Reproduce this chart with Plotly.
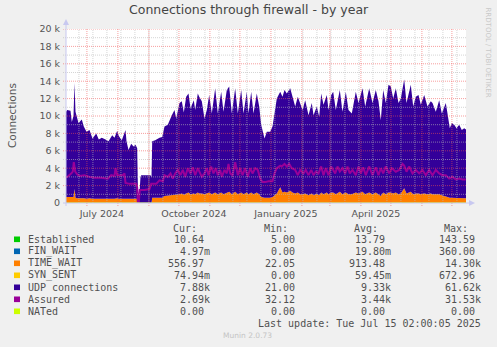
import pandas as pd
import plotly.graph_objects as go

# ---------------- data ----------------
START = pd.Timestamp("2024-06-10 02:00")
END = pd.Timestamp("2025-07-15 02:00")

stack_day = [0, 1.2, 4.5, 5.8, 7.5, 8.5, 9.5, 11.2, 12.5, 15.8,
             17.8, 20.5, 23.5, 26.5, 30.2, 32.8, 35.8, 39.5, 42.5, 46.2,
             48.5, 51.2, 52.8, 55.8, 59.5, 60.5, 62.5, 65.2, 67.5, 69.5,
             71.2, 72.0, 73.0, 74.5, 75.2, 84.5, 85.5, 86.2, 89.2, 93.5,
             96.2, 98.5, 101.8, 105.8, 108.5, 110.2, 113.5, 115.8, 117.8, 120.2,
             122.5, 124.5, 127.8, 129.2, 131.8, 133.2, 135.8, 138.5, 140.8, 143.2,
             145.8, 149.2, 151.8, 155.2, 157.5, 160.8, 163.2, 165.8, 169.2, 171.8,
             175.2, 177.5, 180.8, 182.5, 185.2, 187.5, 190.8, 193.2, 195.2, 198.5,
             200.8, 204.2, 206.5, 208.5, 210.8, 214.2, 216.5, 218.5, 220.8, 224.2,
             226.5, 229.2, 231.8, 234.2, 236.5, 239.2, 242.5, 245.8, 247.5, 250.8,
             253.2, 255.2, 257.5, 260.8, 262.5, 265.2, 267.2, 269.8, 273.8, 276.5,
             279.8, 282.5, 285.8, 289.8, 292.5, 296.5, 299.2, 303.2, 306.5, 309.8,
             312.5, 314.8, 317.2, 319.8, 322.5, 324.8, 327.2, 329.8, 332.5, 334.8,
             338.2, 340.5, 344.8, 347.2, 349.8, 352.5, 354.8, 358.2, 361.5, 364.8,
             366.5, 369.8, 373.2, 375.8, 379.8, 381.5, 383.8, 385.8, 388.2, 390.5,
             393.2, 395.8, 398.2, 400.5]

time_wait_k = [0.7, 0.7, 0.7, 0.7, 0.7, 1.6, 0.6, 0.55, 0.55, 0.6,
               0.55, 0.5, 0.55, 0.5, 0.5, 0.5, 0.5, 0.45, 0.5, 0.5,
               0.5, 0.55, 0.5, 0.5, 0.5, 0.5, 0.5, 0.5, 0.5, 0.55,
               0.5, 0, 0, 0, 0, 0, 0, 0.6, 0.6, 0.6,
               0.6, 0.8, 0.85, 0.85, 0.9, 1.0, 1.0, 1.1, 0.95, 1.1,
               1.2, 1.0, 1.1, 1.0, 1.2, 1.1, 1.1, 1.0, 1.1, 1.2,
               1.0, 1.2, 1.0, 1.2, 1.0, 1.2, 1.3, 1.0, 1.3, 1.0,
               1.2, 1.0, 1.2, 1.0, 1.2, 1.0, 1.2, 1.0, 0.7, 0.6,
               0.6, 0.6, 0.7, 0.9, 1.1, 1.8, 1.2, 1.3, 1.2, 1.4,
               1.2, 1.1, 1.2, 1.0, 1.0, 1.1, 0.9, 1.1, 0.9, 1.1,
               0.9, 1.2, 1.0, 1.2, 1.0, 1.2, 1.2, 1.0, 1.3, 1.0,
               1.2, 1.0, 1.0, 1.2, 1.1, 1.3, 1.0, 1.2, 1.0, 1.2,
               1.0, 0.8, 1.2, 1.0, 1.2, 1.2, 1.1, 1.2, 1.0, 1.1,
               1.7, 1.1, 1.3, 1.0, 1.1, 1.1, 1.0, 1.1, 1.0, 1.1,
               1.0, 1.0, 1.0, 0.9, 0.8, 0.7, 0.6, 0.6, 0.6, 0.6,
               0.6, 0.55, 0.55, 0.55]

udp_k = [9.8, 10.0, 9.9, 8.6, 9.3, 12.2, 9.9, 9.35, 8.65, 9.0,
         8.25, 7.7, 7.85, 6.9, 7.5, 6.8, 7.0, 6.85, 6.6, 7.3,
         7.0, 7.75, 7.2, 6.7, 7.9, 6.6, 5.6, 6.3, 6.0, 6.15,
         5.8, 1.0, 0.3, 3.0, 3.2, 3.2, 3.0, 6.5, 6.6, 6.9,
         7.0, 8.0, 8.15, 9.25, 9.8, 8.7, 10.5, 10.6, 9.45, 11.1,
         11.4, 9.9, 10.7, 9.7, 11.4, 11.1, 10.6, 8.7, 9.6, 11.2,
         9.3, 12.0, 9.3, 11.6, 9.5, 11.8, 12.1, 9.3, 11.9, 9.3,
         11.8, 9.3, 11.6, 9.3, 11.6, 9.3, 11.4, 10.1, 8.3, 6.8,
         7.6, 7.6, 8.1, 9.4, 10.9, 11.0, 11.0, 11.7, 11.4, 11.8,
         11.0, 10.0, 11.0, 10.3, 9.7, 10.7, 9.2, 10.4, 9.2, 10.0,
         9.0, 11.4, 10.3, 11.2, 9.7, 11.2, 11.6, 9.7, 11.7, 9.5,
         11.6, 9.7, 9.3, 11.6, 10.4, 11.9, 10.1, 12.0, 10.5, 11.8,
         10.7, 8.7, 11.8, 10.5, 12.4, 12.2, 10.9, 12.0, 10.5, 10.9,
         12.5, 10.4, 12.3, 10.1, 11.1, 11.3, 10.3, 11.3, 10.1, 10.6,
         10.5, 9.5, 10.8, 9.4, 10.7, 9.6, 8.0, 8.6, 8.4, 8.0,
         8.4, 7.85, 8.05, 7.85]

assured_day = [0, 1.2, 5.2, 6.8, 7.8, 9.2, 11.2, 13.5, 18.5, 23.5,
               28.5, 35.2, 41.8, 45.2, 48.5, 49.5, 51.2, 56.8, 58.5, 59.5,
               63.5, 66.8, 70.2, 71.2, 71.8, 72.8, 73.8, 78.5, 83.5, 85.2,
               90.2, 93.5, 96.8, 98.5, 101.8, 104.5, 106.8, 109.2, 111.8, 114.5,
               116.8, 119.2, 121.8, 124.5, 126.8, 129.2, 131.8, 135.8, 138.5, 140.8,
               142.5, 145.2, 147.5, 149.8, 151.8, 154.2, 155.8, 158.5, 160.8, 162.5,
               164.2, 166.5, 169.2, 171.8, 174.2, 176.5, 179.2, 181.8, 184.2, 186.5,
               189.2, 191.8, 194.2, 196.5, 199.2, 202.5, 206.5, 208.5, 210.8, 214.2,
               215.8, 218.5, 220.8, 223.2, 225.8, 229.2, 231.8, 234.2, 237.5, 239.8,
               242.5, 245.2, 247.5, 249.8, 252.5, 255.2, 257.5, 259.8, 262.5, 265.2,
               269.2, 271.5, 273.8, 276.5, 279.2, 281.5, 283.8, 286.5, 289.8, 292.5,
               294.8, 297.2, 299.8, 303.2, 306.5, 309.8, 312.5, 314.8, 317.2, 319.8,
               323.2, 325.8, 329.8, 333.2, 336.5, 338.2, 340.5, 343.2, 346.5, 349.8,
               353.2, 356.5, 359.8, 363.2, 366.5, 369.8, 373.2, 376.5, 379.8, 383.2,
               386.5, 389.8, 393.2, 396.5, 399.8]

assured_k = [3.0, 3.0, 3.4, 3.6, 4.7, 3.6, 3.3, 3.1, 3.2, 3.0,
             2.9, 2.9, 2.8, 3.2, 3.1, 4.0, 3.2, 3.2, 3.4, 2.3,
             2.2, 2.2, 2.2, 1.8, 0.1, 0.1, 1.5, 1.5, 1.6, 2.2,
             2.2, 2.6, 2.5, 3.2, 3.0, 3.4, 2.8, 3.4, 3.8, 3.2,
             3.8, 3.0, 4.0, 3.4, 4.1, 3.2, 4.0, 3.0, 3.4, 4.0,
             3.2, 4.2, 3.4, 4.0, 3.2, 3.8, 3.0, 3.8, 3.4, 4.5,
             3.4, 3.2, 4.7, 3.2, 4.0, 3.2, 4.0, 3.0, 4.0, 3.4,
             4.0, 3.8, 2.8, 2.4, 2.4, 2.5, 2.5, 3.4, 4.0, 4.3,
             4.2, 4.5, 4.2, 4.5, 4.0, 3.8, 3.2, 3.8, 3.4, 3.8,
             3.2, 3.8, 3.2, 3.6, 3.4, 4.2, 3.2, 4.0, 3.2, 4.2,
             3.4, 4.2, 3.6, 4.0, 3.4, 4.2, 3.4, 3.8, 3.2, 4.2,
             3.4, 4.1, 3.2, 4.2, 3.2, 4.1, 3.2, 4.0, 3.4, 4.2,
             3.4, 4.0, 3.6, 3.8, 4.5, 4.3, 3.6, 4.2, 3.4, 3.8,
             3.4, 3.8, 3.2, 3.8, 3.2, 3.8, 3.4, 3.2, 3.2, 2.8,
             3.0, 2.7, 2.8, 2.7, 2.7]

nated_day = [0, 400.5]
nated_val = [0, 0]

x_label_dates = ["2024-07-16", "2024-10-16", "2025-01-16", "2025-04-16"]
x_label_text = ["July 2024", "October 2024", "January 2025", "April 2025"]
y_tick_vals = [0, 2000, 4000, 6000, 8000, 10000, 12000, 14000, 16000, 18000, 20000]
y_tick_text = ["0", "2 k", "4 k", "6 k", "8 k", "10 k", "12 k", "14 k", "16 k", "18 k", "20 k"]

legend_names = ["Established", "FIN_WAIT", "TIME_WAIT", "SYN_SENT", "UDP connections", "Assured", "NATed"]
legend_colors = ["#00CC00", "#0066B3", "#FF8000", "#FFCC00", "#330099", "#990099", "#CCFF00"]
cur_vals = ["10.64", "4.97m", "556.97", "74.94m", "7.88k", "2.69k", "0.00"]
min_vals = ["5.00", "0.00", "22.05", "0.00", "21.00", "32.12", "0.00"]
avg_vals = ["13.79", "19.80m", "913.48", "59.45m", "9.33k", "3.44k", "0.00"]
max_vals = ["143.59", "360.00", "14.30k", "672.96", "61.62k", "31.53k", "0.00"]

assert len(stack_day) == len(time_wait_k) == len(udp_k)
assert len(assured_day) == len(assured_k)

# ---------------- layout geometry ----------------
W, H = 497, 347
L, R, T, B = 66, 31, 29, 144
PW, PH = W - L - R, H - T - B
BOTTOM = H - B


def px(x):
    return (x - L) / PW


def py(y):
    return (BOTTOM - y) / PH


def to_dates(days):
    return [START + pd.Timedelta(days=d) for d in days]


SANS = "DejaVu Sans"
MONO = "DejaVu Sans Mono"

fig = go.Figure()
fig.add_trace(go.Scatter(x=to_dates(stack_day), y=[v * 1000 for v in time_wait_k],
                         name="TIME_WAIT", mode="lines", stackgroup="one",
                         line=dict(width=0, color="#FF8000"), fillcolor="#FF8000"))
fig.add_trace(go.Scatter(x=to_dates(stack_day), y=[v * 1000 for v in udp_k],
                         name="UDP connections", mode="lines", stackgroup="one",
                         line=dict(width=0, color="#330099"), fillcolor="#330099"))
fig.add_trace(go.Scatter(x=to_dates(assured_day), y=[v * 1000 for v in assured_k],
                         name="Assured", mode="lines",
                         line=dict(width=2, color="#990099")))
fig.add_trace(go.Scatter(x=to_dates(nated_day), y=nated_val, name="NATed", mode="lines",
                         line=dict(width=1, color="#CCFF00")))

shapes = []
# horizontal grid (drawn above the data like rrdtool)
for v in range(1000, 20001, 1000):
    major = v % 2000 == 0
    shapes.append(dict(type="line", xref="paper", yref="y", x0=px(63), x1=1, y0=v, y1=v,
                       layer="above",
                       line=dict(color="rgba(240,80,80,0.55)" if major else "rgba(185,185,185,0.6)",
                                 width=1, dash="1px,1px")))
# vertical minor grid (every two weeks)
for d in pd.date_range("2024-06-23", END, freq="14D"):
    shapes.append(dict(type="line", xref="x", yref="paper", x0=d, x1=d, y0=0, y1=1,
                       layer="above",
                       line=dict(color="rgba(185,185,185,0.6)", width=1, dash="1px,1px")))
# vertical major grid (month starts)
for d in pd.date_range("2024-07-01", END, freq="MS"):
    shapes.append(dict(type="line", xref="x", yref="paper", x0=d, x1=d, y0=py(BOTTOM + 3), y1=1,
                       layer="above",
                       line=dict(color="rgba(240,80,80,0.55)", width=1, dash="1px,1px")))
# axes with arrows
AX = "#C8C8F0"
shapes.append(dict(type="line", xref="paper", yref="paper", x0=px(L), x1=px(L),
                   y0=py(BOTTOM + 3), y1=py(22), line=dict(color=AX, width=1), layer="above"))
shapes.append(dict(type="path", xref="paper", yref="paper",
                   path=f"M {px(L-3)} {py(25)} L {px(L+3)} {py(25)} L {px(L)} {py(19)} Z",
                   fillcolor=AX, line=dict(width=0), layer="above"))
shapes.append(dict(type="line", xref="paper", yref="paper", x0=px(L - 3), x1=px(470),
                   y0=0, y1=0, line=dict(color=AX, width=1), layer="above"))
shapes.append(dict(type="path", xref="paper", yref="paper",
                   path=f"M {px(469)} {py(BOTTOM-3)} L {px(469)} {py(BOTTOM+3)} L {px(475)} {py(BOTTOM)} Z",
                   fillcolor=AX, line=dict(width=0), layer="above"))

annotations = []


def text(x, y, s, size, color, font=SANS, xanchor="left", angle=0):
    annotations.append(dict(x=px(x), y=py(y), xref="paper", yref="paper", text=s,
                            showarrow=False, xanchor=xanchor, yanchor="middle",
                            textangle=angle,
                            font=dict(family=font, size=size, color=color)))


text(248.5, 10, "Connections through firewall - by year", 12.5, "#444444", xanchor="center")
text(12, 116, "Connections", 10.5, "#555555", xanchor="center", angle=-90)
text(487.5, 52, "RRDTOOL / TOBI OETIKER", 7, "#C8C8C8", xanchor="center", angle=90)

# legend table
TXT = "#505050"
headers = ["Cur:", "Min:", "Avg:", "Max:"]
col_edges = [205.7, 296.7, 386.7, 476.7]
for h, e in zip(headers, col_edges):
    text(e - 6.5, 228.3, h, 10, TXT, font=MONO, xanchor="right")
for i, name in enumerate(legend_names):
    yy = 239.3 + 12 * i
    shapes.append(dict(type="rect", xref="paper", yref="paper",
                       x0=px(14), x1=px(20), y0=py(yy - 2.8), y1=py(yy + 2.8),
                       fillcolor=legend_colors[i], line=dict(width=0)))
    text(26, yy, name, 10, TXT, font=MONO)
    for col, e in zip([cur_vals, min_vals, avg_vals, max_vals], col_edges):
        s = col[i]
        shift = 6.0 if s[-1].isalpha() else 0.0
        text(e + shift, yy, s, 10, TXT, font=MONO, xanchor="right")
text(482.7, 323.3, "Last update: Tue Jul 15 02:00:05 2025", 10, TXT, font=MONO, xanchor="right")
text(247.7, 335.7, "Munin 2.0.73", 7.5, "#C4C4C4", xanchor="center")

fig.update_layout(
    width=W, height=H, autosize=False,
    margin=dict(l=L, r=R, t=T, b=B, pad=0),
    paper_bgcolor="#F0F0F0", plot_bgcolor="#FFFFFF",
    showlegend=False,
    shapes=shapes, annotations=annotations,
    xaxis=dict(type="date", range=[START, END], showgrid=False, zeroline=False,
               showline=False, tickvals=[pd.Timestamp(d) for d in x_label_dates],
               ticktext=x_label_text, ticks="", ticklabelstandoff=3,
               tickfont=dict(family=SANS, size=9.5, color="#555555")),
    yaxis=dict(range=[0, 20000], showgrid=False, zeroline=False, showline=False,
               tickvals=y_tick_vals, ticktext=y_tick_text, ticks="",
               ticklabelstandoff=5,
               tickfont=dict(family=SANS, size=9.5, color="#555555")),
)

fig.write_html("out.html")
